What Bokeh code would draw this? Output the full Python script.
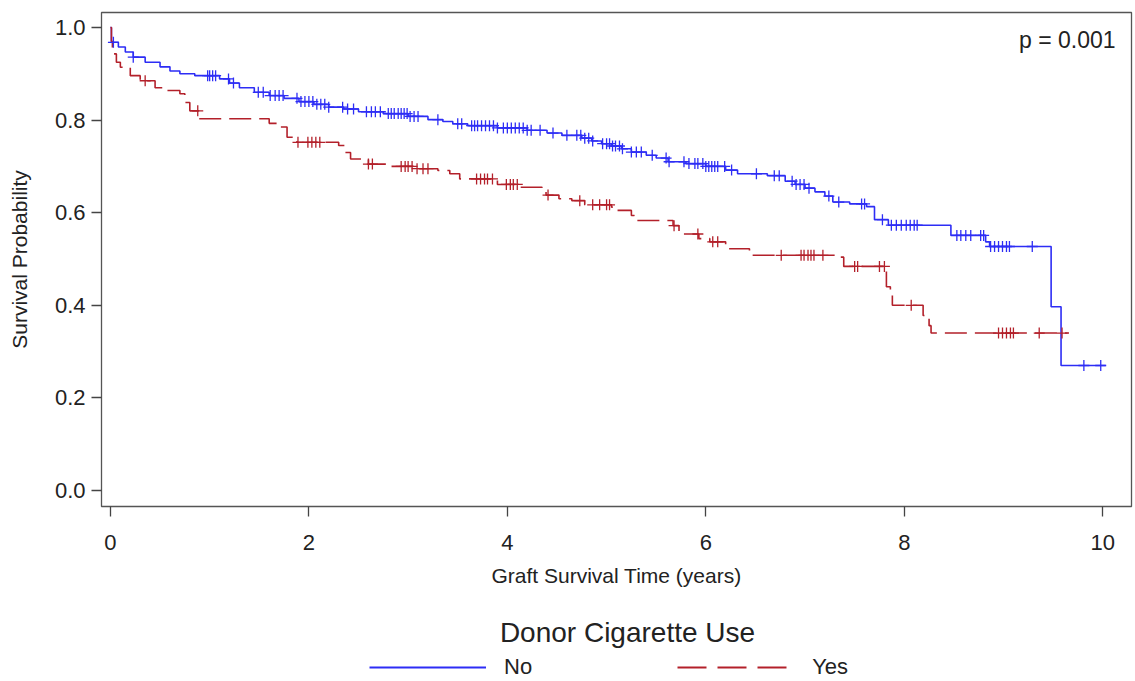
import numpy as np
from bokeh.plotting import figure
from bokeh.layouts import column
from bokeh.models import (FixedTicker, Legend, LegendItem, Label,
                          PrintfTickFormatter, Range1d)
from bokeh.embed import file_html
from bokeh.resources import INLINE

# ---------------- data ----------------
# Kaplan-Meier steps: time (years) and survival after the drop
no_times = [0.0, 0.01, 0.08, 0.15, 0.23, 0.35, 0.5, 0.6, 0.7, 0.85, 1.1, 1.2, 1.3,
            1.45, 1.6, 1.75, 1.9, 2.05, 2.2, 2.35, 2.5, 2.75, 3.0, 3.2, 3.35, 3.45,
            3.6, 3.9, 4.2, 4.4, 4.55, 4.75, 4.85, 4.95, 5.05, 5.15, 5.25, 5.4, 5.5,
            5.62, 5.8, 6.0, 6.2, 6.32, 6.62, 6.8, 6.9, 7.0, 7.1, 7.2, 7.28, 7.45,
            7.62, 7.70, 7.84, 8.47, 8.82, 8.86, 9.48, 9.58]
no_surv = [1.0, 0.968, 0.958, 0.947, 0.936, 0.925, 0.915, 0.906, 0.900, 0.896,
           0.889, 0.880, 0.870, 0.860, 0.853, 0.847, 0.840, 0.834, 0.828, 0.824,
           0.818, 0.814, 0.808, 0.801, 0.797, 0.792, 0.788, 0.783, 0.778, 0.772,
           0.767, 0.761, 0.755, 0.749, 0.744, 0.738, 0.731, 0.724, 0.718, 0.710,
           0.706, 0.700, 0.692, 0.684, 0.680, 0.668, 0.661, 0.653, 0.645, 0.636,
           0.623, 0.619, 0.613, 0.585, 0.573, 0.551, 0.537, 0.527, 0.397, 0.270]
no_end = 10.03
no_censor = [0.03, 0.23, 0.98, 1.0, 1.03, 1.06, 1.19, 1.24, 1.49, 1.54, 1.61, 1.66,
             1.70, 1.74, 1.88, 1.92, 1.96, 2.0, 2.04, 2.08, 2.12, 2.16, 2.2, 2.34,
             2.39, 2.45, 2.58, 2.63, 2.67, 2.72, 2.8, 2.83, 2.86, 2.9, 2.93, 2.96,
             2.99, 3.02, 3.06, 3.1, 3.3, 3.5, 3.54, 3.64, 3.67, 3.7, 3.74, 3.78,
             3.82, 3.86, 3.9, 3.96, 4.0, 4.04, 4.08, 4.12, 4.16, 4.2, 4.24, 4.33,
             4.46, 4.6, 4.7, 4.74, 4.78, 4.82, 4.86, 4.96, 5.0, 5.03, 5.06, 5.09,
             5.13, 5.16, 5.25, 5.3, 5.35, 5.46, 5.6, 5.63, 5.78, 5.83, 5.89, 5.92,
             5.97, 6.0, 6.03, 6.06, 6.09, 6.12, 6.19, 6.26, 6.51, 6.69, 6.74, 6.87,
             6.91, 6.95, 6.99, 7.04, 7.24, 7.34, 7.57, 7.6, 7.78, 7.87, 7.92, 7.97,
             8.02, 8.06, 8.1, 8.13, 8.53, 8.57, 8.62, 8.67, 8.77, 8.8, 8.87, 8.91,
             8.95, 8.99, 9.03, 9.06, 9.29, 9.81, 9.98]

yes_times = [0.0, 0.01, 0.02, 0.06, 0.1, 0.2, 0.3, 0.45, 0.55, 0.7, 0.75, 0.8, 0.89,
             1.6, 1.68, 1.78, 1.88, 2.3, 2.36, 2.42, 2.6, 2.8, 3.05, 3.3, 3.42, 3.52,
             3.9, 4.12, 4.35, 4.39, 4.52, 4.65, 4.78, 5.05, 5.1, 5.25, 5.28, 5.67,
             5.73, 5.93, 6.04, 6.2, 6.44, 7.33, 7.39, 7.82, 7.86, 7.88, 8.19, 8.25,
             8.27]
yes_surv = [1.0, 0.970, 0.943, 0.925, 0.914, 0.896, 0.885, 0.870, 0.864, 0.857,
            0.838, 0.820, 0.803, 0.793, 0.785, 0.763, 0.752, 0.745, 0.730, 0.716,
            0.705, 0.700, 0.695, 0.691, 0.684, 0.673, 0.661, 0.655, 0.648, 0.638,
            0.630, 0.626, 0.617, 0.612, 0.605, 0.594, 0.583, 0.572, 0.554, 0.544,
            0.537, 0.522, 0.508, 0.504, 0.484, 0.440, 0.425, 0.400, 0.378, 0.356,
            0.340]
yes_end = 9.66
yes_censor = [0.35, 0.88, 1.89, 1.99, 2.03, 2.07, 2.11, 2.6, 2.64, 2.93, 2.97, 3.0,
              3.04, 3.09, 3.15, 3.2, 3.69, 3.73, 3.77, 3.8, 3.85, 3.99, 4.03, 4.06,
              4.1, 4.41, 4.73, 4.86, 4.93, 5.0, 5.03, 5.68, 5.92, 6.07, 6.12, 6.76,
              6.96, 6.99, 7.03, 7.06, 7.09, 7.18, 7.5, 7.53, 7.75, 7.8, 8.07, 8.95,
              8.99, 9.03, 9.07, 9.1, 9.36, 9.59]

x_ticks = [0, 2, 4, 6, 8, 10]
y_ticks = [0.0, 0.2, 0.4, 0.6, 0.8, 1.0]
group_labels = ["No", "Yes"]
legend_title = "Donor Cigarette Use"
p_text = "p = 0.001"

BLUE = "#2D2DF5"
RED = "#B3202A"
FONT = "Liberation Sans"
TXT = "#222222"


def km_at(times, surv, t):
    idx = np.searchsorted(np.asarray(times), np.asarray(t), side="right") - 1
    return np.asarray(surv)[idx]


W = 1133
p = figure(width=W, height=600, output_backend="svg", toolbar_location=None,
           x_range=Range1d(-0.09, 10.29), y_range=Range1d(-0.0346, 1.0324),
           min_border_left=101, min_border_right=2, min_border_top=12,
           min_border_bottom=94)
p.background_fill_color = "white"
p.border_fill_color = "white"
p.outline_line_color = "#555555"
p.outline_line_width = 1.3
p.grid.visible = False

# steps
nx = list(no_times) + [no_end]
ny = list(no_surv) + [no_surv[-1]]
yx = list(yes_times) + [yes_end]
yy = list(yes_surv) + [yes_surv[-1]]
p.step(nx, ny, mode="after", line_color=BLUE, line_width=1.6)
p.step(yx, yy, mode="after", line_color=RED, line_width=1.6, line_dash="22 8")

# censor marks
p.scatter(no_censor, km_at(no_times, no_surv, no_censor), marker="cross",
          size=11, line_color=BLUE, line_width=1.3)
p.scatter(yes_censor, km_at(yes_times, yes_surv, yes_censor), marker="cross",
          size=11, line_color=RED, line_width=1.3)

# axes
for ax, ticks in ((p.xaxis[0], x_ticks), (p.yaxis[0], y_ticks)):
    ax.ticker = FixedTicker(ticks=ticks)
    ax.minor_tick_line_color = None
    ax.axis_line_color = None
    ax.major_tick_in = 0
    ax.major_tick_out = 10
    ax.major_tick_line_color = "#444444"
    ax.major_tick_line_width = 1.3
    ax.major_label_text_font = FONT
    ax.major_label_text_font_size = "22px"
    ax.major_label_text_color = TXT
    ax.axis_label_text_font = FONT
    ax.axis_label_text_font_size = "21px"
    ax.axis_label_text_font_style = "normal"
    ax.axis_label_text_color = TXT
p.yaxis[0].formatter = PrintfTickFormatter(format="%.1f")
p.xaxis[0].axis_label = "Graft Survival Time (years)"
p.yaxis[0].axis_label = "Survival Probability"
p.xaxis[0].major_label_standoff = 18
p.xaxis[0].axis_label_standoff = 11
p.yaxis[0].major_label_standoff = 6
p.yaxis[0].axis_label_standoff = 21

# p-value
p.add_layout(Label(x=10.13, y=0.972, text=p_text, text_align="right",
                   text_baseline="middle", text_font=FONT,
                   text_font_size="23px", text_color=TXT))

# legend strip (separate figure so the legend is not clipped by the frame);
# its ranges are in pixels of its frame (which lines up with the main frame)
q = figure(width=W, height=81, output_backend="svg", toolbar_location=None,
           x_range=Range1d(100, 1130), y_range=Range1d(-81, 0), min_border=0)
q.axis.visible = False
q.grid.visible = False
q.outline_line_color = None
q.add_layout(Label(x=626, y=-32, text=legend_title, text_align="center",
                   text_baseline="middle", text_font=FONT,
                   text_font_size="28px", text_color=TXT))
# legend-only renderers (their data lies outside this strip's ranges)
l_no = q.line(nx, ny, line_color=BLUE, line_width=2)
l_yes = q.line(yx, yy, line_color=RED, line_width=2, line_dash="29 11")
legend = Legend(items=[LegendItem(label=group_labels[0], renderers=[l_no]),
                       LegendItem(label=group_labels[1], renderers=[l_yes])],
                orientation="horizontal", location=(268, 1),
                glyph_width=117, glyph_height=20, label_height=20,
                label_standoff=18, spacing=145, padding=0, margin=0,
                border_line_color=None, background_fill_alpha=0,
                label_text_font=FONT, label_text_font_size="22px",
                label_text_color=TXT)
q.add_layout(legend, "center")

open("out.html", "w").write(file_html(column(p, q), INLINE))
